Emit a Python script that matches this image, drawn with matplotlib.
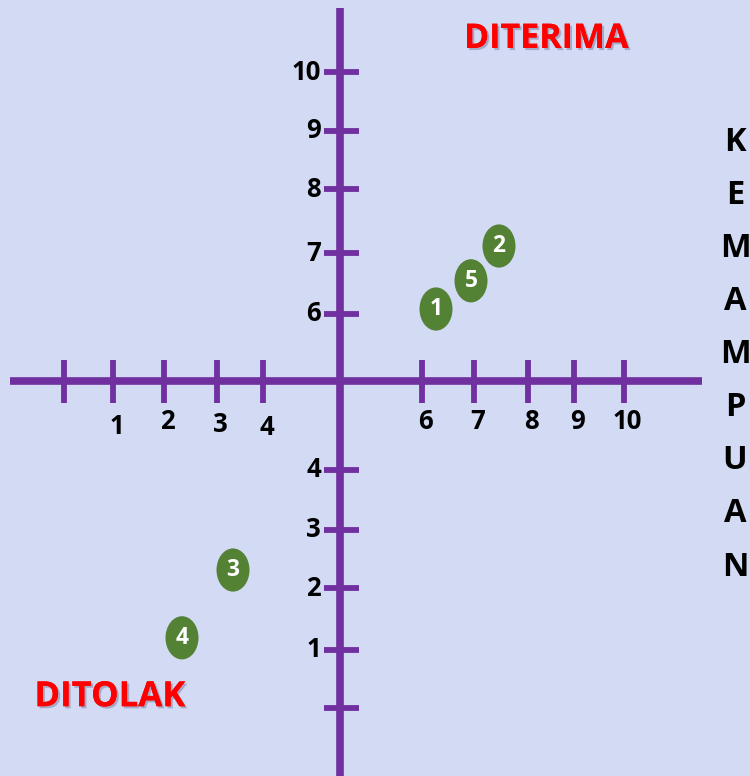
import matplotlib
matplotlib.use("Agg")
import matplotlib.pyplot as plt
from matplotlib.patches import Ellipse
import matplotlib.patheffects as pe

# ---- data (chart units: x 1 unit = 50px, y 1 unit = 60px, origin at axis cross) ----
x_tick_pos = [-5.52, -4.54, -3.52, -2.46, -1.54, 1.64, 2.68, 3.76, 4.68, 5.68]
x_tick_labels = ["", "1", "2", "3", "4", "6", "7", "8", "9", "10"]
x_label_y = [-0.75, -0.75, -0.67, -0.72, -0.78, -0.68, -0.68, -0.68, -0.68, -0.68]
y_tick_pos = [5.15, 4.17, 3.2, 2.13, 1.12, -1.48, -2.48, -3.45, -4.48, -5.45]
y_tick_labels = ["10", "9", "8", "7", "6", "4", "3", "2", "1", ""]
point_labels = ["1", "2", "3", "4", "5"]
point_x = [1.92, 3.18, -2.14, -3.16, 2.62]
point_y = [1.2, 2.25, -3.15, -4.28, 1.67]
axis_x_range = [-6.6, 7.24]
axis_y_range = [-6.6, 6.22]
side_word = "KEMAMPUAN"

PURPLE = "#7030A0"
GREEN = "#548235"
BG = "#D2DAF4"
FONT = ["Open Sans", "DejaVu Sans"]

fig = plt.figure(figsize=(7.5, 7.76), dpi=100)
fig.patch.set_facecolor(BG)
ax = fig.add_axes([0, 0, 1, 1])
ax.set_facecolor(BG)
ax.set_xlim(-6.8, 8.2)
ax.set_ylim(-6.583, 6.35)
ax.axis("off")

# main axes
ax.plot(axis_x_range, [0, 0], color=PURPLE, lw=5.5, solid_capstyle="butt", zorder=2)
ax.plot([0, 0], axis_y_range, color=PURPLE, lw=5.5, solid_capstyle="butt", zorder=2)

# ticks
ax.vlines(x_tick_pos, -0.36, 0.35, color=PURPLE, lw=4.2, zorder=2)
ax.hlines(y_tick_pos, -0.32, 0.37, color=PURPLE, lw=4.2, zorder=2)

for xp, yl, lab in zip(x_tick_pos, x_label_y, x_tick_labels):
    ax.text(xp + 0.07, yl, lab, ha="center", va="center", fontsize=18.5,
            fontweight="bold", family=FONT, color="black")
for yp, lab in zip(y_tick_pos, y_tick_labels):
    ax.text(-0.38, yp, lab, ha="right", va="center", fontsize=18.5,
            fontweight="bold", family=FONT, color="black")

# points
for lab, xv, yv in zip(point_labels, point_x, point_y):
    ax.add_patch(Ellipse((xv, yv), 0.66, 0.72, facecolor=GREEN, edgecolor="none", zorder=3))
    ax.text(xv, yv, lab, ha="center", va="center", fontsize=16.5, fontweight="bold",
            family=FONT, color="white", zorder=4)

shadow = [pe.withSimplePatchShadow(offset=(1.5, -1.5), shadow_rgbFace="#7a7a9a", alpha=0.5),
          pe.Normal()]
ax.text(4.12, 5.7, "DITERIMA", ha="center", va="center", fontsize=24.5, fontweight="bold",
        family=FONT, color="#FF0000", path_effects=shadow)
ax.text(-4.6, -5.27, "DITOLAK", ha="center", va="center", fontsize=25, fontweight="bold",
        family=FONT, color="#FF0000", path_effects=shadow)

# side word, letter by letter
n = len(side_word)
for i, ch in enumerate(side_word):
    yv = 3.97 - i * (3.97 + 3.1) / (n - 1)
    ax.text(7.9, yv, ch, ha="center", va="center", fontsize=23.5, fontweight="bold",
            family=FONT, color="black")

fig.savefig("out.png", dpi=100, facecolor=BG)
